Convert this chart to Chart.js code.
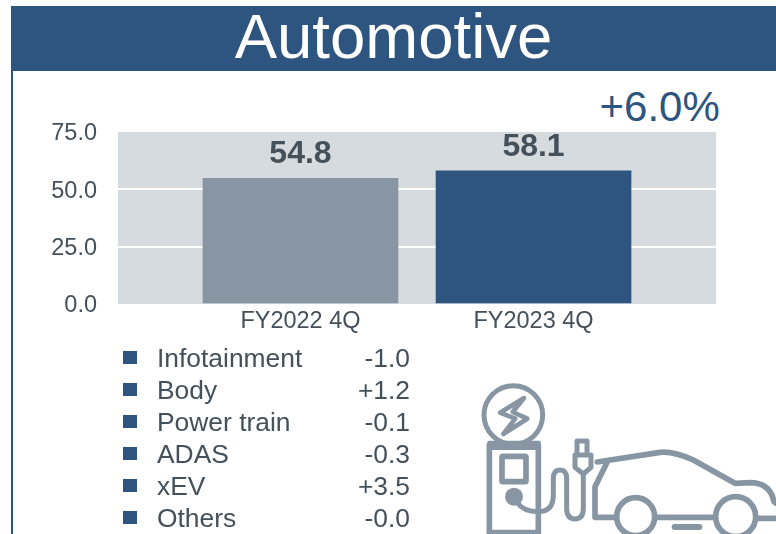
<!DOCTYPE html>
<html lang="en">
<head>
    <meta charset="UTF-8">
    <title>Automotive</title>
    <style>
        html, body { margin: 0; padding: 0; background: #fff; }
        body { position: relative; width: 776px; height: 534px; overflow: hidden; font-family: "Liberation Sans", Arial, sans-serif; }
        #header { position: absolute; left: 11px; top: 6px; width: 765px; height: 65px; background: #2e5480; color: #fff; font-size: 63.5px; line-height: 61px; text-align: center; }
        #leftline { position: absolute; left: 11px; top: 71px; width: 2px; height: 463px; background: #2e5480; }
        #change { position: absolute; left: 599.5px; top: 83px; font-size: 42px; line-height: 48px; color: #2e5480; }
        #chart { position: absolute; left: 0; top: 0; }
        .row { position: absolute; left: 0; height: 32px; width: 420px; font-size: 26.4px; line-height: 32px; color: #44505a; }
        .row i { position: absolute; left: 123px; top: 9px; width: 14px; height: 13px; background: #2e5480; }
        .row span { position: absolute; left: 157px; }
        .row b { position: absolute; right: 10px; font-weight: normal; }
        #icon { position: absolute; left: 460px; top: 370px; }
    </style>
</head>
<body>
    <div id="header">Automotive</div>
    <div id="leftline"></div>
    <div id="change">+6.0%</div>
    <canvas id="chart" width="776" height="534"></canvas>
    <div id="rows"></div>

    <svg id="icon" width="316" height="164" viewBox="0 0 948 492" fill="none" stroke="#8896a3" stroke-width="17" stroke-linecap="round" stroke-linejoin="round">
        <circle cx="160" cy="135" r="88" stroke-width="15"/>
        <path stroke-width="14" d="M192 84 L120 128 L166 146 L130 192 L202 146 L158 126 Z"/>
        <path d="M88 226 H235 V492 M88 226 V492 M88 488 H235"/>
        <rect x="82" y="212" width="160" height="28" rx="5" fill="#8896a3" stroke="none"/>
        <rect x="126" y="259" width="72" height="76" rx="3"/>
        <circle cx="162" cy="380" r="27" fill="#8896a3" stroke="none"/>
        <path stroke-width="15" d="M172 398 Q190 425 235 425 Q280 425 280 375 V325 Q280 300 300 300 Q320 300 320 325 V415 Q320 447 345 447 Q370 447 370 415 V312"/>
        <path stroke-width="15" d="M345 255 H393 V292 L370 312 L345 292 Z"/>
        <path stroke-width="15" d="M351 250 V213 H381 V250"/>
        <path d="M412 276 L600 247 Q640 243 700 270 L825 340 L870 338 Q930 338 942 395 L948 400"/>
        <path d="M440 280 L405 350 V442 H465"/>
        <path d="M590 442 H762"/>
        <path d="M895 445 H948"/>
        <circle cx="527" cy="440" r="57"/>
        <circle cx="827" cy="440" r="60"/>
        <path stroke-width="18" d="M644 471 H718"/>
    </svg>

    <script src="https://cdn.jsdelivr.net/npm/chart.js@4.4.9/dist/chart.umd.js"></script>
    <script>
        const categories = ['FY2022 4Q', 'FY2023 4Q'];
        const values = [54.8, 58.1];
        const barColors = ['#8896a3', '#2e5480'];
        const yTicks = [0, 25, 50, 75];
        const breakdownLabels = ['Infotainment', 'Body', 'Power train', 'ADAS', 'xEV', 'Others'];
        const breakdownValues = ['-1.0', '+1.2', '-0.1', '-0.3', '+3.5', '-0.0'];

        // breakdown list under the chart
        const rows = document.getElementById('rows');
        breakdownLabels.forEach((label, i) => {
            const row = document.createElement('div');
            row.className = 'row';
            row.style.top = (342 + i * 32) + 'px';
            row.innerHTML = `<i></i><span>${label}</span><b>${breakdownValues[i]}</b>`;
            rows.appendChild(row);
        });

        const plotBackground = {
            id: 'plotBackground',
            beforeDraw(chart) {
                const { ctx, chartArea: a } = chart;
                ctx.save();
                ctx.fillStyle = '#d6dbdf';
                ctx.fillRect(a.left, a.top, a.width, a.height);
                ctx.restore();
            }
        };

        const barLabels = {
            id: 'barLabels',
            afterDatasetsDraw(chart) {
                const { ctx } = chart;
                ctx.save();
                ctx.font = 'bold 32px "Liberation Sans", Arial, sans-serif';
                ctx.fillStyle = '#44505a';
                ctx.textAlign = 'center';
                ctx.textBaseline = 'middle';
                chart.getDatasetMeta(0).data.forEach((bar, i) => {
                    ctx.fillText(values[i].toFixed(1), bar.x, bar.y - 24);
                });
                ctx.restore();
            }
        };

        new Chart(document.getElementById('chart'), {
            type: 'bar',
            data: {
                datasets: [{
                    data: values.map((v, i) => ({ x: i, y: v })),
                    backgroundColor: barColors,
                    barThickness: 195
                }]
            },
            plugins: [plotBackground, barLabels],
            options: {
                responsive: false,
                animation: false,
                layout: { padding: { top: 132, right: 60 } },
                plugins: { legend: { display: false }, tooltip: { enabled: false } },
                scales: {
                    x: {
                        type: 'linear',
                        offset: false,
                        min: -0.783,
                        max: 1.783,
                        afterBuildTicks: axis => { axis.ticks = categories.map((c, i) => ({ value: i })); },
                        afterFit: axis => { axis.height = 230; },
                        grid: { display: false, drawTicks: false },
                        border: { display: false },
                        ticks: {
                            autoSkip: false,
                            maxRotation: 0,
                            padding: 3,
                            color: '#44505a',
                            font: { family: '"Liberation Sans", Arial, sans-serif', size: 23.5 },
                            callback: v => categories[v]
                        }
                    },
                    y: {
                        min: 0,
                        max: 75,
                        afterBuildTicks: axis => { axis.ticks = yTicks.map(v => ({ value: v })); },
                        afterFit: axis => { axis.width = 118; },
                        border: { display: false },
                        grid: {
                            drawTicks: false,
                            lineWidth: 2,
                            color: c => (c.tick.value === 25 || c.tick.value === 50) ? '#ffffff' : 'rgba(0,0,0,0)'
                        },
                        ticks: {
                            padding: 21,
                            labelOffset: 2,
                            color: '#44505a',
                            font: { family: '"Liberation Sans", Arial, sans-serif', size: 23.5 },
                            callback: v => v.toFixed(1)
                        }
                    }
                }
            }
        });
    </script>
</body>
</html>
